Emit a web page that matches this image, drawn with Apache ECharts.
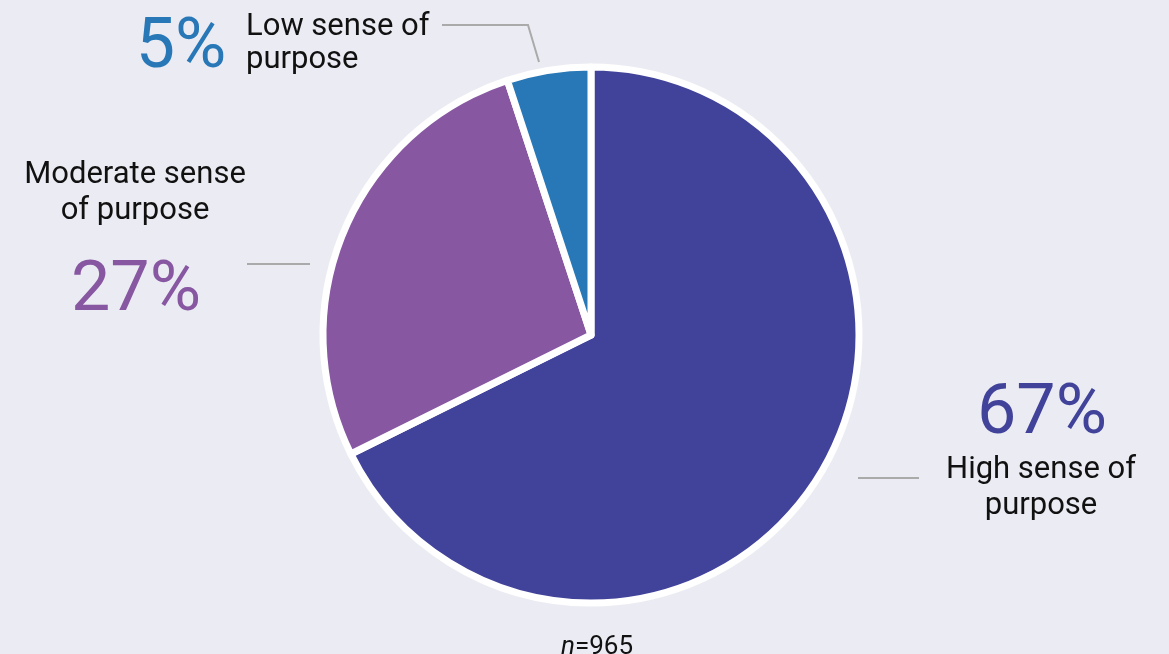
<!DOCTYPE html>
<html>
<head>
<meta charset="utf-8">
<script src="https://cdn.jsdelivr.net/npm/echarts@6/dist/echarts.min.js"></script>
<style>
  html, body { margin: 0; padding: 0; background: #ebebf3; }
  #chart { width: 1169px; height: 654px; }
</style>
</head>
<body>
<div id="chart"></div>
<script>
// Sense of purpose among respondents
const categories = ['High sense of\npurpose', 'Moderate sense\nof purpose', 'Low sense of\npurpose'];
const shares = [67, 27, 5];
const colors = ['#41429a', '#8757a1', '#2878b8'];
const sampleSize = 965;

const chart = echarts.init(document.getElementById('chart'));

const nameFont = { fontFamily: 'Roboto', fontSize: 31, fill: '#111', lineHeight: 36 };
const pctFont = { fontFamily: 'Roboto', fontSize: 70, fontWeight: 400 };
const lineStyle = { stroke: '#aaaaaa', lineWidth: 2 };

const pct = i => shares[i] + '%';

chart.setOption({
  backgroundColor: '#ebebf3',
  animation: false,
  series: [{
    type: 'pie',
    center: [591, 335],
    radius: 268,
    startAngle: 90,
    clockwise: true,
    label: { show: false },
    labelLine: { show: false },
    emphasis: { disabled: true },
    itemStyle: { borderColor: '#ffffff', borderWidth: 7 },
    data: categories.map((name, i) => ({
      name, value: shares[i], itemStyle: { color: colors[i] }
    }))
  }],
  graphic: [
    // High
    { type: 'text', x: 1042, y: 450, style: Object.assign({ text: pct(0), fill: colors[0], align: 'center', verticalAlign: 'bottom' }, pctFont) },
    { type: 'text', x: 1041, y: 452, style: Object.assign({ text: categories[0], align: 'center', verticalAlign: 'top' }, nameFont) },
    { type: 'polyline', shape: { points: [[858, 478], [919, 478]] }, style: lineStyle },
    // Moderate
    { type: 'text', x: 135, y: 157, style: Object.assign({ text: categories[1], align: 'center', verticalAlign: 'top' }, nameFont) },
    { type: 'text', x: 136, y: 327, style: Object.assign({ text: pct(1), fill: colors[1], align: 'center', verticalAlign: 'bottom' }, pctFont) },
    { type: 'polyline', shape: { points: [[247, 264], [310, 264]] }, style: lineStyle },
    // Low
    { type: 'text', x: 181, y: 84, style: Object.assign({ text: pct(2), fill: colors[2], align: 'center', verticalAlign: 'bottom' }, pctFont) },
    { type: 'text', x: 246, y: 11, style: Object.assign({}, nameFont, { text: categories[2], align: 'left', verticalAlign: 'top', lineHeight: 33 }) },
    { type: 'polyline', shape: { points: [[442, 25], [528, 25], [539, 62]] }, style: lineStyle },
    // Sample size
    {
      type: 'text', x: 597, y: 660,
      style: {
        text: '{i|n}=' + sampleSize,
        align: 'center', verticalAlign: 'bottom',
        fontFamily: 'Roboto', fontSize: 26, fill: '#111',
        rich: { i: { fontStyle: 'italic', fontFamily: 'Roboto', fontSize: 26, fill: '#111' } }
      }
    }
  ]
});
</script>
</body>
</html>
